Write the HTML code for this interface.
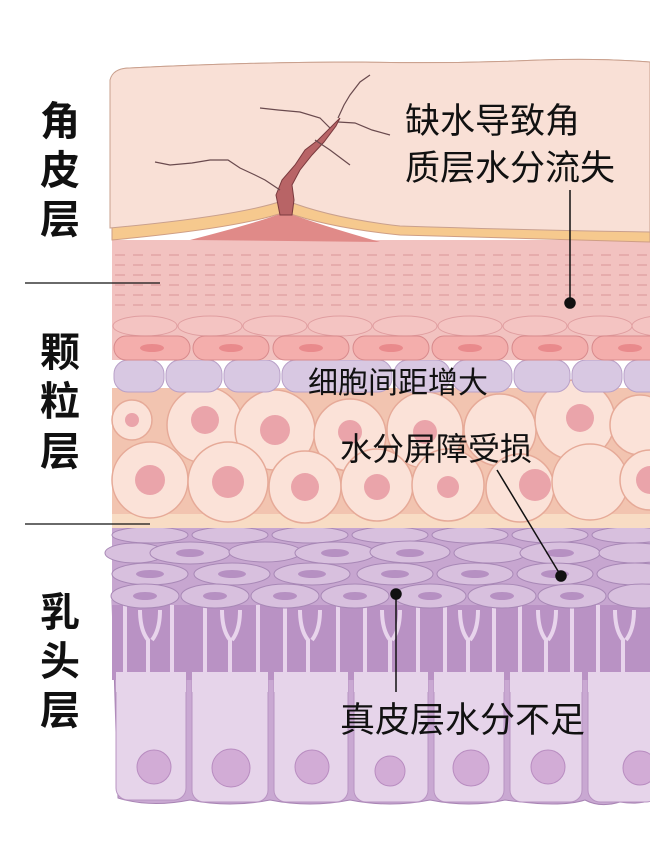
<!DOCTYPE html>
<html><head><meta charset="utf-8"><style>
html,body{margin:0;padding:0;background:#fff;}
svg{display:block}
text{font-family:"Liberation Sans","Noto Sans CJK SC",sans-serif;fill:#111}
</style></head><body>
<svg width="650" height="866" viewBox="0 0 650 866" xmlns="http://www.w3.org/2000/svg">
<rect width="650" height="866" fill="#fff"/>
<path d="M112 600 L650 600 L650 800 Q640 805 620 802 Q600 808 585 800 Q560 808 505 800 Q470 808 430 800 Q390 808 350 800 Q310 808 270 800 Q230 808 190 800 Q150 808 118 798 Z" fill="#c9a8d2" stroke="#a884b4"/>
<g fill="#e6d4ea" stroke="#b894c2">
<rect x="116" y="610" width="70" height="190" rx="12"/>
<rect x="192" y="610" width="76" height="192" rx="12"/>
<rect x="274" y="610" width="74" height="192" rx="12"/>
<rect x="354" y="610" width="74" height="192" rx="12"/>
<rect x="434" y="610" width="70" height="192" rx="12"/>
<rect x="510" y="610" width="72" height="192" rx="12"/>
<rect x="588" y="610" width="70" height="192" rx="12"/>
</g>
<rect x="112" y="600" width="538" height="80" fill="#b992c4"/>
<g stroke="#e8d4ec" stroke-width="4" fill="none">
<path d="M125 605 v70 M140 610 q0 20 8 30 v35 M160 610 q0 20 -8 30 M172 605 v70 M205 605 v70 M222 610 q0 20 8 30 v35 M240 610 q0 20 -8 30 M258 605 v70 M285 605 v70 M300 610 q0 20 8 30 v35 M320 610 q0 20 -8 30 M338 605 v70 M365 605 v70 M382 610 q0 20 8 30 v35 M400 610 q0 20 -8 30 M418 605 v70 M445 605 v70 M460 610 q0 20 8 30 v35 M478 610 q0 20 -8 30 M494 605 v70 M520 605 v70 M538 610 q0 20 8 30 v35 M556 610 q0 20 -8 30 M572 605 v70 M598 605 v70 M615 610 q0 20 8 30 v35 M634 610 q0 20 -8 30"/>
</g>
<g fill="#e6d4ea"><rect x="116" y="672" width="70" height="20"/><rect x="192" y="672" width="76" height="20"/><rect x="274" y="672" width="74" height="20"/><rect x="354" y="672" width="74" height="20"/><rect x="434" y="672" width="70" height="20"/><rect x="510" y="672" width="72" height="20"/><rect x="588" y="672" width="62" height="20"/></g>
<g fill="#d2acd6" stroke="#b88cc0"><circle cx="154" cy="767" r="17"/><circle cx="231" cy="768" r="19"/><circle cx="312" cy="767" r="17"/><circle cx="390" cy="771" r="15"/><circle cx="471" cy="768" r="18"/><circle cx="548" cy="767" r="17"/><circle cx="640" cy="768" r="17"/></g>
<rect x="112" y="527" width="538" height="78" fill="#c7a6d0"/>
<g fill="#d8c0de" stroke="#a888b6">
<ellipse cx="150" cy="535" rx="38" ry="8"/><ellipse cx="230" cy="535" rx="38" ry="8"/><ellipse cx="310" cy="535" rx="38" ry="8"/><ellipse cx="390" cy="535" rx="38" ry="8"/><ellipse cx="470" cy="535" rx="38" ry="8"/><ellipse cx="550" cy="535" rx="38" ry="8"/><ellipse cx="630" cy="535" rx="38" ry="8"/>
<ellipse cx="135" cy="553" rx="30" ry="10"/><ellipse cx="190" cy="553" rx="40" ry="11"/><ellipse cx="265" cy="552" rx="36" ry="10"/><ellipse cx="335" cy="553" rx="40" ry="11"/><ellipse cx="410" cy="552" rx="40" ry="11"/><ellipse cx="490" cy="553" rx="36" ry="10"/><ellipse cx="560" cy="553" rx="40" ry="11"/><ellipse cx="635" cy="553" rx="36" ry="10"/>
<ellipse cx="150" cy="574" rx="38" ry="11"/><ellipse cx="232" cy="574" rx="38" ry="11"/><ellipse cx="312" cy="574" rx="38" ry="11"/><ellipse cx="395" cy="574" rx="38" ry="11"/><ellipse cx="475" cy="574" rx="38" ry="11"/><ellipse cx="555" cy="574" rx="38" ry="11"/><ellipse cx="635" cy="574" rx="38" ry="11"/>
<ellipse cx="145" cy="596" rx="34" ry="12"/><ellipse cx="215" cy="596" rx="34" ry="12"/><ellipse cx="285" cy="596" rx="34" ry="12"/><ellipse cx="355" cy="596" rx="34" ry="12"/><ellipse cx="430" cy="596" rx="36" ry="12"/><ellipse cx="502" cy="596" rx="34" ry="12"/><ellipse cx="572" cy="596" rx="34" ry="12"/><ellipse cx="642" cy="596" rx="34" ry="12"/>
</g>
<g fill="#b690c2"><ellipse cx="150" cy="574" rx="14" ry="4"/><ellipse cx="232" cy="574" rx="14" ry="4"/><ellipse cx="312" cy="574" rx="14" ry="4"/><ellipse cx="395" cy="574" rx="14" ry="4"/><ellipse cx="475" cy="574" rx="14" ry="4"/><ellipse cx="555" cy="574" rx="14" ry="4"/><ellipse cx="145" cy="596" rx="12" ry="4"/><ellipse cx="215" cy="596" rx="12" ry="4"/><ellipse cx="285" cy="596" rx="12" ry="4"/><ellipse cx="355" cy="596" rx="12" ry="4"/><ellipse cx="430" cy="596" rx="12" ry="4"/><ellipse cx="502" cy="596" rx="12" ry="4"/><ellipse cx="572" cy="596" rx="12" ry="4"/><ellipse cx="190" cy="553" rx="14" ry="4"/><ellipse cx="335" cy="553" rx="14" ry="4"/><ellipse cx="410" cy="553" rx="14" ry="4"/><ellipse cx="560" cy="553" rx="14" ry="4"/></g>
<rect x="112" y="512" width="538" height="16" fill="#f8dcc4"/>
<rect x="112" y="388" width="538" height="126" fill="#f2c4b0"/>
<g fill="#fbe2d8" stroke="#e6aa98" stroke-width="1.5">
<circle cx="132" cy="420" r="20"/><circle cx="205" cy="425" r="38"/><circle cx="275" cy="430" r="40"/><circle cx="350" cy="435" r="36"/><circle cx="425" cy="430" r="38"/><circle cx="500" cy="430" r="36"/><circle cx="575" cy="420" r="40"/><circle cx="640" cy="425" r="30"/>
<circle cx="150" cy="480" r="38"/><circle cx="228" cy="482" r="40"/><circle cx="305" cy="487" r="36"/><circle cx="377" cy="485" r="36"/><circle cx="448" cy="485" r="36"/><circle cx="520" cy="488" r="34"/><circle cx="590" cy="482" r="38"/><circle cx="650" cy="480" r="30"/>
</g>
<g fill="#eaa4aa"><circle cx="132" cy="420" r="7"/><circle cx="205" cy="420" r="14"/><circle cx="275" cy="430" r="15"/><circle cx="350" cy="432" r="12"/><circle cx="425" cy="432" r="12"/><circle cx="580" cy="418" r="14"/><circle cx="150" cy="480" r="15"/><circle cx="228" cy="482" r="16"/><circle cx="305" cy="487" r="14"/><circle cx="377" cy="487" r="13"/><circle cx="448" cy="487" r="11"/><circle cx="535" cy="485" r="16"/><circle cx="650" cy="480" r="14"/></g>
<g fill="#d8c8e2" stroke="#b8a0c8">
<rect x="114" y="360" width="50" height="32" rx="14"/><rect x="166" y="360" width="56" height="32" rx="14"/><rect x="224" y="360" width="56" height="32" rx="14"/><rect x="282" y="360" width="110" height="32" rx="14"/><rect x="394" y="360" width="56" height="32" rx="14"/><rect x="452" y="360" width="60" height="32" rx="14"/><rect x="514" y="360" width="56" height="32" rx="14"/><rect x="572" y="360" width="50" height="32" rx="14"/><rect x="624" y="360" width="40" height="32" rx="14"/>
</g>
<path d="M112 240 L650 240 L650 360 L112 360 Z" fill="#f2c2c0"/>
<g stroke="#e2a4a6" stroke-width="1.5" stroke-dasharray="10 8" fill="none">
<path d="M115 255 H650 M115 265 H650 M115 275 H650 M115 285 H650 M115 295 H650 M115 305 H650"/>
</g>
<g fill="#f4c4c2" stroke="#e09ea0">
<ellipse cx="145" cy="326" rx="32" ry="10"/><ellipse cx="210" cy="326" rx="32" ry="10"/><ellipse cx="275" cy="326" rx="32" ry="10"/><ellipse cx="340" cy="326" rx="32" ry="10"/><ellipse cx="405" cy="326" rx="32" ry="10"/><ellipse cx="470" cy="326" rx="32" ry="10"/><ellipse cx="535" cy="326" rx="32" ry="10"/><ellipse cx="600" cy="326" rx="32" ry="10"/><ellipse cx="660" cy="326" rx="28" ry="10"/>
</g>
<g fill="#f4aeac" stroke="#d88a8c">
<rect x="114" y="336" width="76" height="24" rx="12"/><rect x="193" y="336" width="76" height="24" rx="12"/><rect x="273" y="336" width="76" height="24" rx="12"/><rect x="353" y="336" width="76" height="24" rx="12"/><rect x="432" y="336" width="76" height="24" rx="12"/><rect x="512" y="336" width="76" height="24" rx="12"/><rect x="592" y="336" width="76" height="24" rx="12"/>
</g>
<g fill="#e98a8c"><ellipse cx="152" cy="348" rx="12" ry="4"/><ellipse cx="231" cy="348" rx="12" ry="4"/><ellipse cx="311" cy="348" rx="12" ry="4"/><ellipse cx="391" cy="348" rx="12" ry="4"/><ellipse cx="470" cy="348" rx="12" ry="4"/><ellipse cx="550" cy="348" rx="12" ry="4"/><ellipse cx="630" cy="348" rx="12" ry="4"/></g>
<path d="M190 240 Q260 222 285 212 Q320 225 380 242 Z" fill="#e08a88"/>
<path d="M112 240 L112 80 Q115 68 130 68 Q250 62 360 62 Q450 64 540 60 Q600 58 650 62 L650 242 Q520 238 400 235 Q330 228 285 212 Q240 228 112 240 Z" fill="#f6c98e" stroke="#cf9e84"/>
<path d="M110 228 L110 80 Q113 68 130 68 Q250 62 360 62 Q450 64 540 60 Q600 58 650 62 L650 232 Q520 230 400 226 Q330 218 285 200 Q240 216 110 228 Z" fill="#f9e0d6" stroke="#c9a08e"/>
<path d="M280 215 L276 195 L282 180 L295 165 L305 150 L318 140 L330 128 L340 118 L336 126 L324 142 L312 155 L300 170 L292 185 L294 200 L292 215 Z" fill="#b86466" stroke="#7a3a3e"/>
<g stroke="#6a4a4e" stroke-width="1.2" fill="none">
<path d="M280 190 L265 180 L255 175 L240 168 L228 160 L210 160 L192 163 L170 165 L155 162"/>
<path d="M338 118 L344 105 L350 95 L360 82 L370 75"/>
<path d="M338 122 L355 123 L372 130 L390 135"/>
<path d="M330 128 L320 118 L300 112 L278 110 L260 108"/>
<path d="M315 140 L330 150 L350 165"/>
</g>
<g font-size="40" font-weight="bold">
<text x="40" y="135">角</text><text x="40" y="184">皮</text><text x="40" y="233">层</text>
<text x="40" y="366">颗</text><text x="40" y="415">粒</text><text x="40" y="465">层</text>
<text x="40" y="626">乳</text><text x="40" y="675">头</text><text x="40" y="724">层</text>
</g>
<g stroke="#111" stroke-width="1.2"><line x1="25" y1="283" x2="160" y2="283"/><line x1="25" y1="524" x2="150" y2="524"/></g>
<g font-size="35">
<text x="405" y="133">缺水导致角</text>
<text x="405" y="180">质层水分流失</text>
<text x="308" y="393" font-size="30">细胞间距增大</text>
<text x="340" y="460" font-size="32">水分屏障受损</text>
<text x="340" y="732" font-size="35">真皮层水分不足</text>
</g>
<g stroke="#111" stroke-width="1.5" fill="#111">
<line x1="570" y1="190" x2="570" y2="303"/><circle cx="570" cy="303" r="5"/>
<line x1="497" y1="470" x2="561" y2="576"/><circle cx="561" cy="576" r="5"/>
<line x1="396" y1="594" x2="396" y2="692"/><circle cx="396" cy="594" r="5"/>
</g>
</svg>
</body></html>
